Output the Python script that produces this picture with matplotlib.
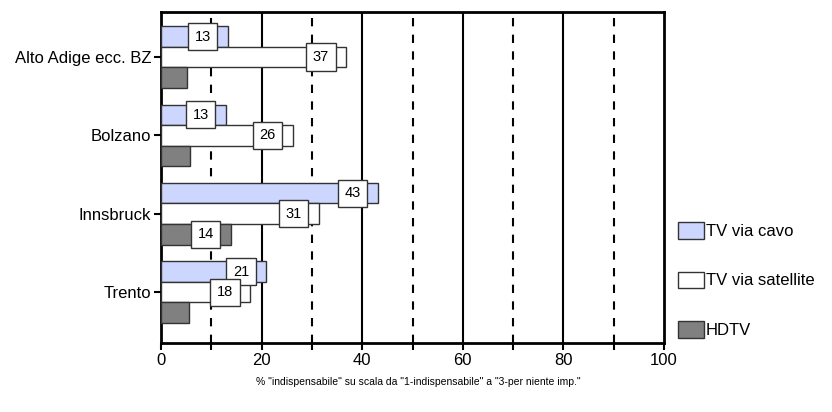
import matplotlib.pyplot as plt
import numpy as np
from matplotlib.patches import Patch

plt.rcParams["font.family"] = ["Liberation Sans", "DejaVu Sans"]

# data
regions = ["Alto Adige ecc. BZ", "Bolzano", "Innsbruck", "Trento"]
cavo = [13.3, 12.9, 43.1, 20.9]
satellite = [36.8, 26.2, 31.4, 17.7]
hdtv = [5.2, 5.8, 13.9, 5.6]
series_names = ["TV via cavo", "TV via satellite", "HDTV"]

colors = ["#ccd6ff", "#ffffff", "#808080"]
edge = "#333333"

fig = plt.figure(figsize=(8.32, 4.12), dpi=100)
ax = fig.add_axes([161 / 832, 1 - 343 / 412, (664 - 161) / 832, (343 - 12) / 412])

y = np.arange(len(regions))
h = 0.262
for k, (vals, col) in enumerate(zip([cavo, satellite, hdtv], colors)):
    ax.barh(y + (k - 1) * h, vals, height=h, color=col, edgecolor=edge, linewidth=1, zorder=3)
    for yi, v in zip(y, vals):
        if v < 10:
            continue
        ax.text(v - 5, yi + (k - 1) * h, f"{round(v):d}", ha="center", va="center",
                fontsize=10.5, zorder=5,
                bbox=dict(boxstyle="square,pad=0.45", fc="white", ec=edge, lw=1))

# grid: solid at 20s, dashed at odd tens
for xv in [20, 40, 60, 80]:
    ax.axvline(xv, color="black", lw=1.5, zorder=1)
for xv in [10, 30, 50, 70, 90]:
    ax.axvline(xv, color="black", lw=1.5, ls=(0, (4, 4)), zorder=1)

ax.set_xlim(0, 100)
ax.set_ylim(3.65, -0.575)
ax.set_xticks(range(0, 101, 20))
ax.set_xticks(range(10, 100, 20), minor=True)
ax.set_yticks(y)
ax.set_yticklabels(regions)
ax.tick_params(axis="both", labelsize=12, width=1.5, length=5, color="black")
ax.tick_params(axis="x", which="minor", length=5, width=1.5)
ax.tick_params(axis="x", pad=2)
ax.tick_params(axis="y", pad=2)
for s in ax.spines.values():
    s.set_linewidth(2)

fig.text(418 / 832, 1 - 382 / 412,
         '% "indispensabile" su scala da "1-indispensabile" a "3-per niente imp."',
         ha="center", va="center", fontsize=7.5)

handles = [Patch(facecolor=c, edgecolor=edge, label=n) for c, n in zip(colors, series_names)]
fig.legend(handles=handles, loc="center left", bbox_to_anchor=(671 / 832, 1 - 280 / 412),
           frameon=False, fontsize=12, handlelength=1.6, handleheight=1.15,
           handletextpad=0.1, labelspacing=1.95, borderaxespad=0)

fig.savefig("out.png", dpi=100)
